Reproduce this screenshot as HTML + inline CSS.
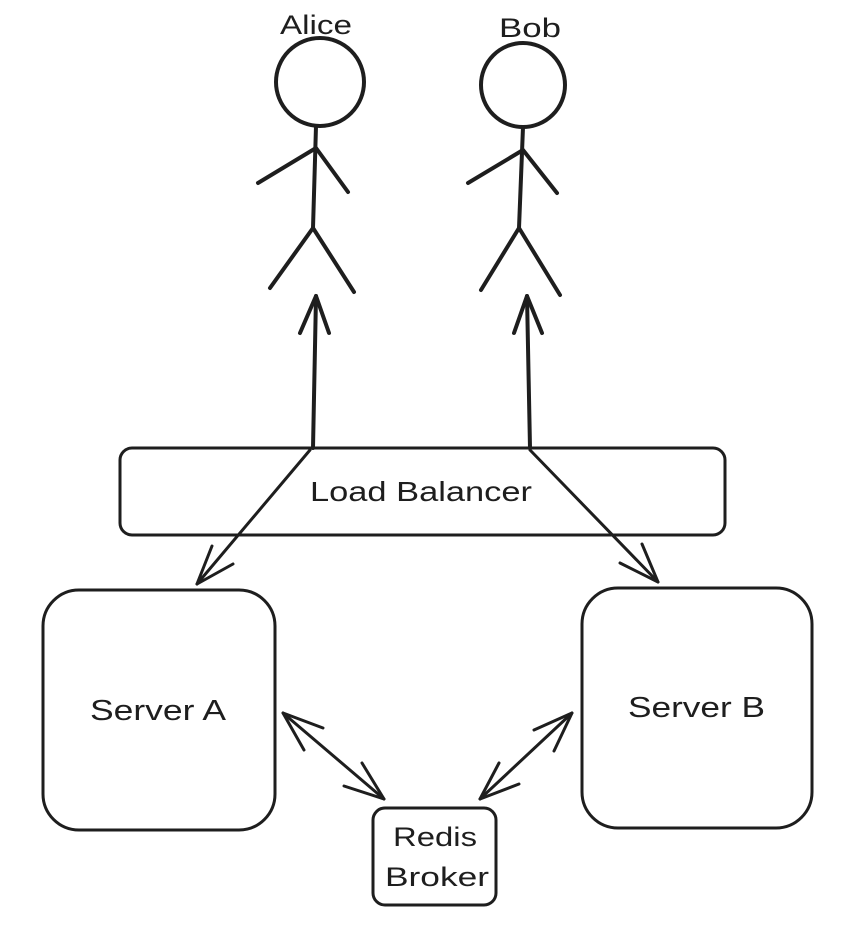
<!DOCTYPE html>
<html><head><style>
html,body{margin:0;padding:0;background:#fff;}
svg{display:block;}
text{font-family:"Liberation Sans",sans-serif;fill:#1e1e1e;}
</style></head><body>
<svg width="848" height="930" viewBox="0 0 848 930" xmlns="http://www.w3.org/2000/svg">
<g fill="none" stroke="#1e1e1e" stroke-width="4" stroke-linecap="round" stroke-linejoin="round">
<!-- Alice -->
<circle cx="320" cy="82" r="44"/>
<line x1="316" y1="126" x2="313" y2="228"/>
<polyline points="258,183 316,148 348,192"/>
<polyline points="270,288 313,228 354,292"/>
<!-- Bob -->
<circle cx="523" cy="85" r="42"/>
<line x1="523" y1="127" x2="519" y2="228"/>
<polyline points="468,183 523,150 557,193"/>
<polyline points="481,290 519,228 560,295"/>
<!-- up arrows -->
<line x1="313" y1="448" x2="316" y2="296"/>
<polyline points="300,333 316,296 329,333"/>
<line x1="530" y1="448" x2="527" y2="296"/>
<polyline points="514,333 527,296 542,333"/>
<!-- LB -->
<rect x="120" y="448" width="605" height="87" rx="12" stroke-width="3"/>
<!-- down arrows -->
<line x1="310" y1="450" x2="197" y2="584" stroke-width="3"/>
<polyline points="212,546 197,584 233,564" stroke-width="3"/>
<line x1="530" y1="450" x2="658" y2="582" stroke-width="3"/>
<polyline points="642,544 658,582 620,563" stroke-width="3"/>
<!-- servers -->
<rect x="43" y="590" width="232" height="240" rx="36" stroke-width="3"/>
<rect x="582" y="588" width="230" height="240" rx="36" stroke-width="3"/>
<!-- redis -->
<rect x="373" y="808" width="123" height="97" rx="12" stroke-width="3"/>
<!-- double arrows -->
<g stroke-width="3">
<line x1="283" y1="713" x2="384" y2="799"/>
<polyline points="323,728 283,713 304,750"/>
<polyline points="362,763 384,799 344,786"/>
<line x1="480" y1="799" x2="572" y2="713"/>
<polyline points="499,763 480,799 519,784"/>
<polyline points="534,730 572,713 554,751"/>
</g>
</g>
<text x="280" y="34" font-size="27" textLength="72" lengthAdjust="spacingAndGlyphs">Alice</text>
<text x="499" y="37" font-size="27" textLength="62" lengthAdjust="spacingAndGlyphs">Bob</text>
<text x="310" y="501" font-size="28" textLength="222" lengthAdjust="spacingAndGlyphs">Load Balancer</text>
<text x="90" y="720" font-size="29" textLength="136" lengthAdjust="spacingAndGlyphs">Server A</text>
<text x="628" y="717" font-size="29" textLength="137" lengthAdjust="spacingAndGlyphs">Server B</text>
<text x="393" y="846" font-size="27" textLength="84" lengthAdjust="spacingAndGlyphs">Redis</text>
<text x="385" y="886" font-size="27" textLength="104" lengthAdjust="spacingAndGlyphs">Broker</text>
</svg>
</body></html>
